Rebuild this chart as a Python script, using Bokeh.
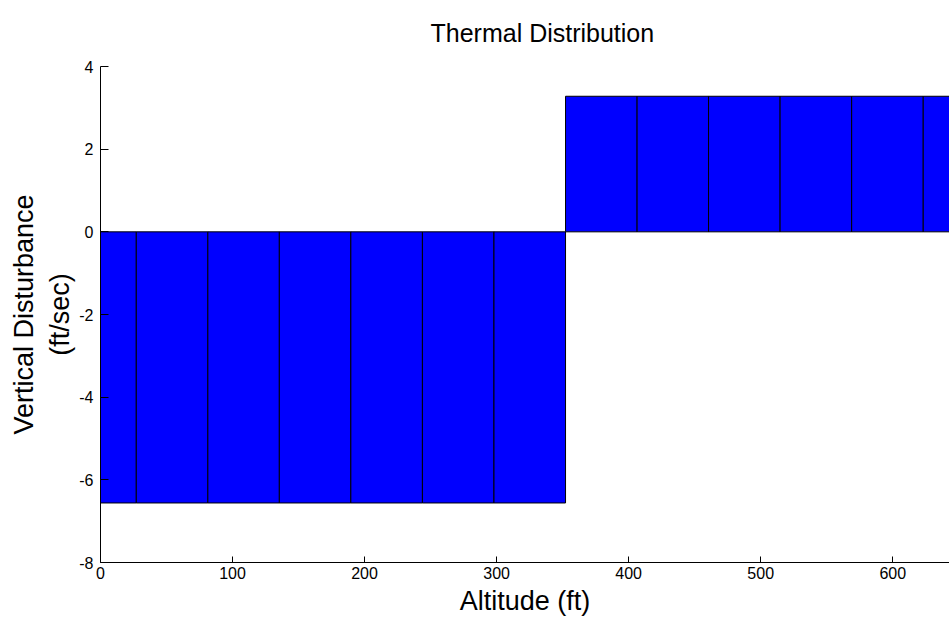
from bokeh.plotting import figure
from bokeh.models import ColumnDataSource, FixedTicker, Range1d
from bokeh.embed import file_html
from bokeh.resources import INLINE

# Thermal profile: bar centres (ft) and vertical disturbance (ft/sec)
altitude = [0.0, 54.2, 108.4, 162.5, 216.7, 270.9, 325.1,
            379.3, 433.5, 487.6, 541.8, 596.0, 650.2]
disturbance = [-6.56, -6.56, -6.56, -6.56, -6.56, -6.56, -6.56,
               3.28, 3.28, 3.28, 3.28, 3.28, 3.28]
bar_width = 54.2

x_ticks = [0, 100, 200, 300, 400, 500, 600]
y_ticks = [-8, -6, -4, -2, 0, 2, 4]

FONT = "Liberation Sans"

source = ColumnDataSource(data=dict(altitude=altitude, disturbance=disturbance))

p = figure(
    width=949, height=619,
    x_range=Range1d(0, 643), y_range=Range1d(-8, 4),
    output_backend="svg", toolbar_location=None,
    min_border_left=100, min_border_right=0,
    min_border_top=66, min_border_bottom=57,
    title="Thermal Distribution",
)

p.vbar(x="altitude", top="disturbance", bottom=0, width=bar_width,
       source=source, fill_color="#0000FF", line_color="black", line_width=1)

# title sits over the centre of the full axes span, which runs past the right edge
p.title.text_font = FONT
p.title.text_font_size = "25px"
p.title.text_font_style = "normal"
p.title.text_color = "black"
p.title.align = "left"
p.title.vertical_align = "top"
p.title.offset = 330
p.title.standoff = 35

p.xgrid.visible = False
p.ygrid.visible = False
p.outline_line_color = None
p.background_fill_color = "white"
p.border_fill_color = "white"

p.xaxis.ticker = FixedTicker(ticks=x_ticks)
p.yaxis.ticker = FixedTicker(ticks=y_ticks)
# plain hyphen for negative tick labels
p.yaxis.major_label_overrides = {t: str(t) for t in y_ticks}

for ax in (p.xaxis, p.yaxis):
    ax.axis_line_color = "black"
    ax.major_tick_line_color = "black"
    ax.minor_tick_line_color = None
    ax.major_tick_out = 0
    ax.major_label_text_font = FONT
    ax.major_label_text_font_size = "16px"
    ax.major_label_text_color = "black"
    ax.axis_label_text_font = FONT
    ax.axis_label_text_font_style = "normal"
    ax.axis_label_text_color = "black"

p.xaxis.major_tick_in = 6
p.yaxis.major_tick_in = 8
p.xaxis.major_label_standoff = 4
p.yaxis.major_label_standoff = 7

p.xaxis.axis_label = "Altitude (ft)"
p.xaxis.axis_label_text_font_size = "27px"
p.xaxis.axis_label_standoff = 4

p.yaxis.axis_label = "Vertical Disturbance\n(ft/sec)"
p.yaxis.axis_label_text_font_size = "27px"
p.yaxis.axis_label_standoff = 1

open("out.html", "w").write(file_html(p, INLINE))
